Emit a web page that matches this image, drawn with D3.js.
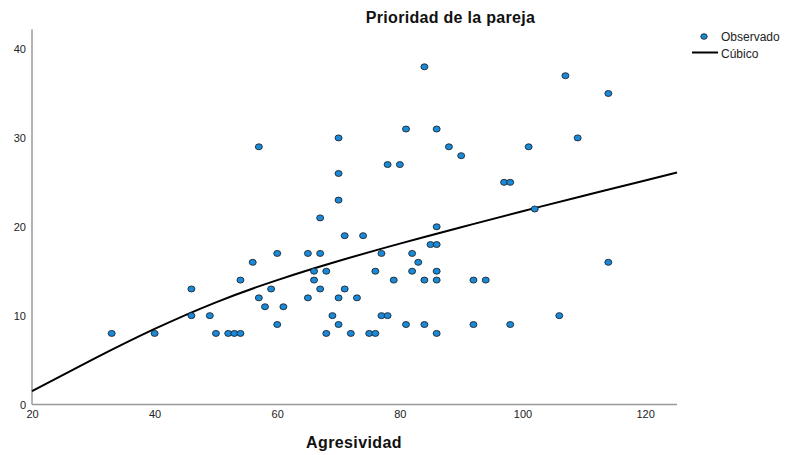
<!DOCTYPE html>
<html>
<head>
<meta charset="utf-8">
<script src="https://cdn.jsdelivr.net/npm/d3@7"></script>
<style>
  html, body { margin: 0; padding: 0; background: #fff; }
  svg { display: block; font-family: "Liberation Sans", Arial, sans-serif; }
</style>
</head>
<body>
<svg id="chart" width="787" height="455"></svg>
<script>
// Observed points: Agresividad (x) and Prioridad de la pareja (y)
const agresividad = [33,40,46,46,49,50,52,53,54,54,56,57,57,58,59,60,60,61,65,65,66,66,67,67,67,68,68,69,70,70,70,70,70,71,71,72,73,74,75,76,76,77,77,78,78,79,80,81,81,82,82,83,84,84,84,85,86,86,86,86,86,86,88,90,92,92,94,97,98,98,101,102,106,107,109,114,114];
const prioridad   = [ 8, 8,13,10,10, 8, 8, 8, 8,14,16,29,12,11,13,17, 9,11,17,12,15,14,21,17,13,15, 8,10,30,26,23,12, 9,19,13, 8,12,19, 8,15, 8,17,10,27,10,14,27,31, 9,17,15,16,38,14, 9,18,31,20,18,15,14, 8,29,28,14, 9,14,25,25, 9,29,22,10,37,30,35,16];

// Cubic fit line
const cubicX = [20, 30, 40, 50, 60, 70, 80, 90, 100, 110, 120, 125.2];
const cubicY = [1.5, 5.1, 8.5, 11.5, 14.0, 16.15, 18.1, 19.95, 21.75, 23.5, 25.2, 26.1];

const xTicks = [20, 40, 60, 80, 100, 120];
const yTicks = [0, 10, 20, 30, 40];

const title = "Prioridad de la pareja";
const xTitle = "Agresividad";
const legendLabels = ["Observado", "Cúbico"];

const svg = d3.select("#chart");

const x = d3.scaleLinear().domain([20, 125.2]).range([32, 677]);
const y = d3.scaleLinear().domain([0, 42.2]).range([404.5, 29.5]);

// Axes lines
svg.append("line").attr("x1", 32).attr("x2", 32).attr("y1", y(42.2)).attr("y2", y(0))
  .attr("stroke", "#666").attr("stroke-width", 1);
svg.append("line").attr("x1", 32).attr("x2", 677).attr("y1", y(0)).attr("y2", y(0))
  .attr("stroke", "#999").attr("stroke-width", 1.5);

// Axis labels via d3 axes
const yAxis = svg.append("g").attr("transform", "translate(32,0)")
  .call(d3.axisLeft(y).tickValues(yTicks).tickSize(0).tickPadding(6).tickFormat(d3.format("d")));
yAxis.select(".domain").remove();
yAxis.selectAll("text").attr("font-size", 11).attr("fill", "#222")
  .attr("font-family", "'Liberation Sans', Arial, sans-serif");

const xAxis = svg.append("g").attr("transform", `translate(0,${y(0)})`)
  .call(d3.axisBottom(x).tickValues(xTicks).tickSize(0).tickPadding(6).tickFormat(d3.format("d")));
xAxis.select(".domain").remove();
xAxis.selectAll("text").attr("font-size", 11).attr("fill", "#222")
  .attr("font-family", "'Liberation Sans', Arial, sans-serif");

// Cubic line
const curvePts = cubicX.map((d, i) => [d, cubicY[i]]);
svg.append("path")
  .datum(curvePts)
  .attr("fill", "none")
  .attr("stroke", "#000")
  .attr("stroke-width", 2)
  .attr("d", d3.line().x(d => x(d[0])).y(d => y(d[1])).curve(d3.curveNatural));

// Points
const pts = agresividad.map((d, i) => [d, prioridad[i]]);
svg.append("g").selectAll("ellipse").data(pts).join("ellipse")
  .attr("cx", d => x(d[0]))
  .attr("cy", d => y(d[1]))
  .attr("rx", 3.5)
  .attr("ry", 3.0)
  .attr("fill", "#1a8ad8")
  .attr("stroke", "#1c2630")
  .attr("stroke-width", 0.9);

// Title
svg.append("text").attr("x", 450.5).attr("y", 23)
  .attr("text-anchor", "middle").attr("font-size", 16).attr("font-weight", "bold")
  .attr("letter-spacing", 0.3).attr("fill", "#111").text(title);

svg.append("text").attr("x", 354).attr("y", 448)
  .attr("text-anchor", "middle").attr("font-size", 16).attr("font-weight", "bold")
  .attr("letter-spacing", 0.4).attr("fill", "#111").text(xTitle);

// Legend
const lg = svg.append("g");
lg.append("ellipse").attr("cx", 704).attr("cy", 36.5).attr("rx", 3.2).attr("ry", 2.8)
  .attr("fill", "#1a8ad8").attr("stroke", "#1c2630").attr("stroke-width", 0.9);
lg.append("text").attr("x", 721).attr("y", 40.5).attr("font-size", 12).attr("fill", "#222").text(legendLabels[0]);
lg.append("line").attr("x1", 692).attr("x2", 718).attr("y1", 52.5).attr("y2", 52.5)
  .attr("stroke", "#000").attr("stroke-width", 2);
lg.append("text").attr("x", 721).attr("y", 57.5).attr("font-size", 12).attr("fill", "#222").text(legendLabels[1]);
</script>
</body>
</html>
